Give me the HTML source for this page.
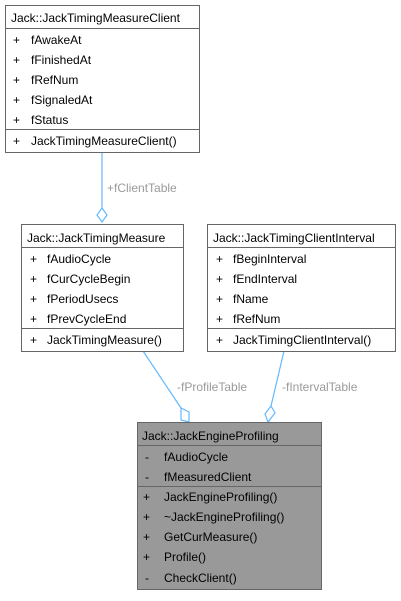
<!DOCTYPE html>
<html><head><style>
html,body{margin:0;padding:0;background:#fff;}
svg text{font-family:"Liberation Sans",sans-serif;font-size:12px;fill:#000;}
.lbl{fill:#9a9a9a;}
</style></head><body>
<svg width="401" height="596" viewBox="0 0 401 596" xmlns="http://www.w3.org/2000/svg">
<!-- edges -->
<g stroke="#63b8ff" stroke-width="1.2" fill="#fff">
<line x1="102" y1="152" x2="102" y2="208"/>
<path d="M102,208 L107,215 L102,222 L97,215 Z"/>
<line x1="143" y1="351" x2="181" y2="408"/>
<path d="M181,408 L189,412 L189,422 L181,420 Z"/>
<line x1="284" y1="351" x2="271" y2="406"/>
<path d="M271,406 L275,413 L268,422 L265,414 Z"/>
</g>
<text class="lbl" x="107" y="192">+fClientTable</text>
<text class="lbl" x="177" y="391">-fProfileTable</text>
<text class="lbl" x="282" y="391">-fIntervalTable</text>

<!-- box 1 -->
<g fill="#fff" stroke="#666" stroke-width="1">
<rect x="5.5" y="5.5" width="194" height="147"/>
<line x1="5.5" y1="28.5" x2="199.5" y2="28.5"/>
<line x1="5.5" y1="129.5" x2="199.5" y2="129.5"/>
</g>
<text x="11" y="22">Jack::JackTimingMeasureClient</text>
<text x="13" y="44">+</text><text x="31" y="44">fAwakeAt</text>
<text x="13" y="64">+</text><text x="31" y="64">fFinishedAt</text>
<text x="13" y="84">+</text><text x="31" y="84">fRefNum</text>
<text x="13" y="104">+</text><text x="31" y="104">fSignaledAt</text>
<text x="13" y="124">+</text><text x="31" y="124">fStatus</text>
<text x="13" y="145">+</text><text x="31" y="145">JackTimingMeasureClient()</text>

<!-- box 2 -->
<g fill="#fff" stroke="#666" stroke-width="1">
<rect x="21.5" y="224.5" width="162" height="127"/>
<line x1="21.5" y1="247.5" x2="183.5" y2="247.5"/>
<line x1="21.5" y1="328.5" x2="183.5" y2="328.5"/>
</g>
<text x="27" y="242">Jack::JackTimingMeasure</text>
<text x="30" y="263">+</text><text x="47" y="263">fAudioCycle</text>
<text x="30" y="283">+</text><text x="47" y="283">fCurCycleBegin</text>
<text x="30" y="303">+</text><text x="47" y="303">fPeriodUsecs</text>
<text x="30" y="323">+</text><text x="47" y="323">fPrevCycleEnd</text>
<text x="30" y="344">+</text><text x="47" y="344">JackTimingMeasure()</text>

<!-- box 3 -->
<g fill="#fff" stroke="#666" stroke-width="1">
<rect x="207.5" y="224.5" width="188" height="127"/>
<line x1="207.5" y1="247.5" x2="395.5" y2="247.5"/>
<line x1="207.5" y1="328.5" x2="395.5" y2="328.5"/>
</g>
<text x="213" y="242">Jack::JackTimingClientInterval</text>
<text x="216" y="263">+</text><text x="233" y="263">fBeginInterval</text>
<text x="216" y="283">+</text><text x="233" y="283">fEndInterval</text>
<text x="216" y="303">+</text><text x="233" y="303">fName</text>
<text x="216" y="323">+</text><text x="233" y="323">fRefNum</text>
<text x="216" y="344">+</text><text x="233" y="344">JackTimingClientInterval()</text>

<!-- box 4 -->
<g fill="#999" stroke="#666" stroke-width="1">
<rect x="137.5" y="422.5" width="184" height="167"/>
<line x1="137.5" y1="445.5" x2="321.5" y2="445.5"/>
<line x1="137.5" y1="486.5" x2="321.5" y2="486.5"/>
</g>
<text x="142" y="440">Jack::JackEngineProfiling</text>
<text x="145" y="461">-</text><text x="164" y="461">fAudioCycle</text>
<text x="145" y="481">-</text><text x="164" y="481">fMeasuredClient</text>
<text x="143" y="501">+</text><text x="164" y="501">JackEngineProfiling()</text>
<text x="143" y="521">+</text><text x="164" y="521">~JackEngineProfiling()</text>
<text x="143" y="541">+</text><text x="164" y="541">GetCurMeasure()</text>
<text x="143" y="561">+</text><text x="164" y="561">Profile()</text>
<text x="145" y="582">-</text><text x="164" y="582">CheckClient()</text>
</svg>
</body></html>
